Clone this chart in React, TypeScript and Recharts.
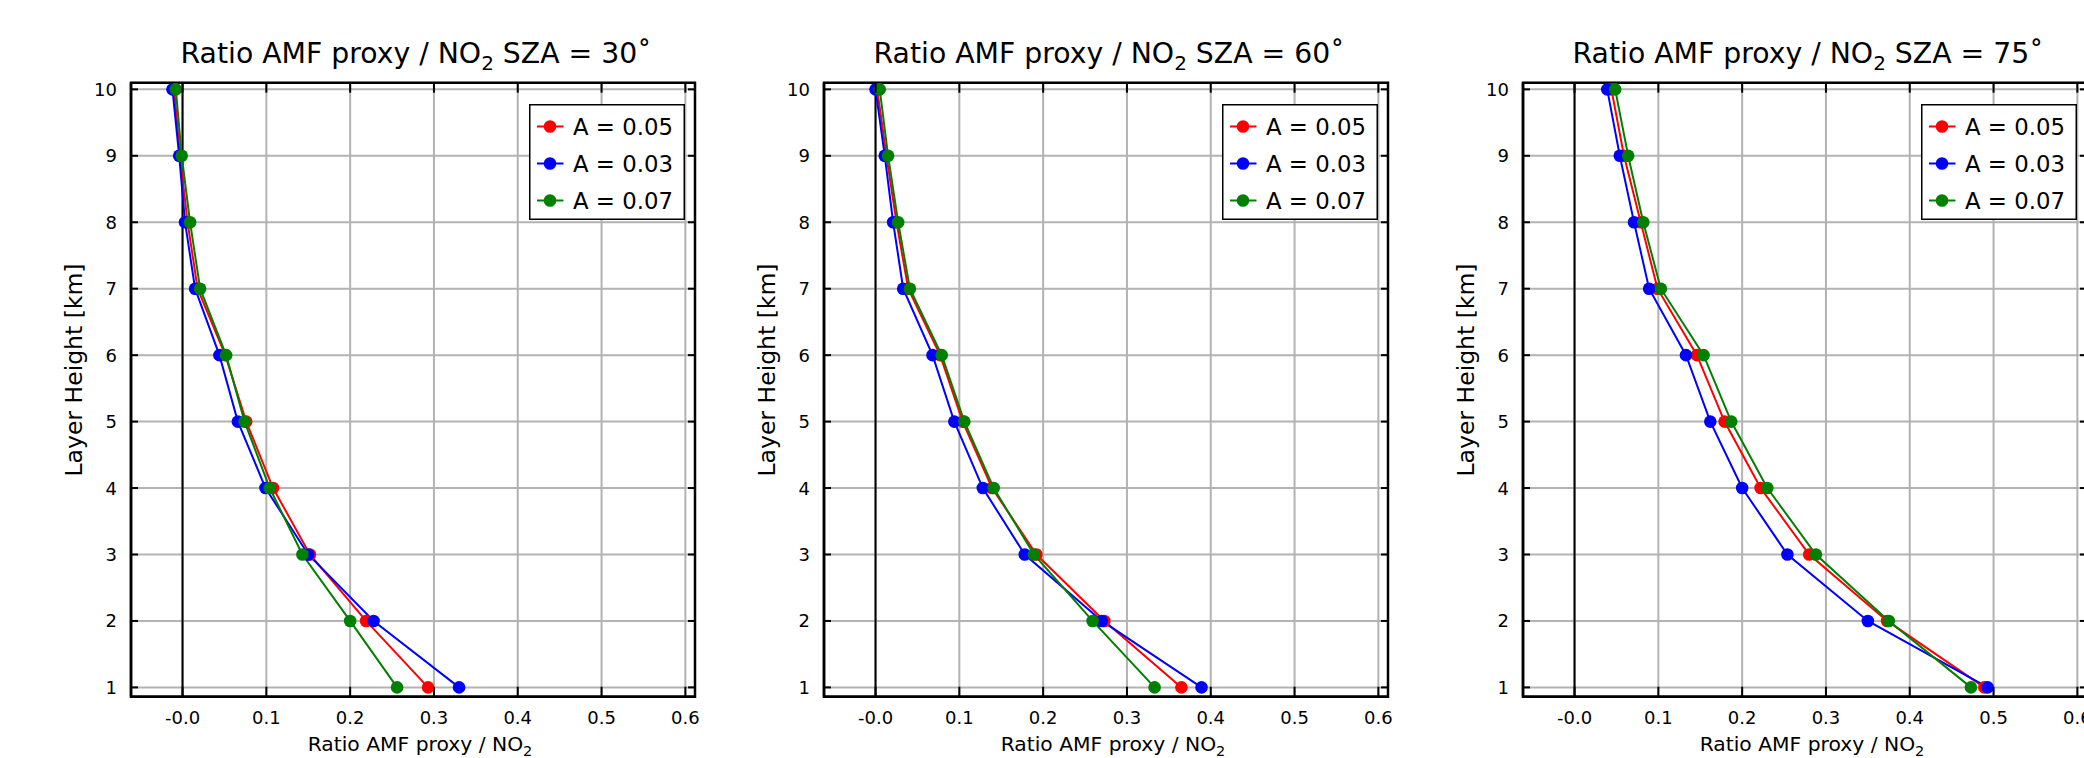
import React from 'react';
import { LineChart, Line, XAxis, YAxis, CartesianGrid, ReferenceLine, ReferenceArea, Legend } from 'recharts';

// ---------- data ----------
const heights = [1, 2, 3, 4, 5, 6, 7, 8, 9, 10];
const szaValues = ['30', '60', '75'];
const seriesLabels = ['A = 0.05', 'A = 0.03', 'A = 0.07'];
const seriesKeys = ['a05', 'a03', 'a07'];
const seriesColors = ['#ff0000', '#0000ff', '#008000'];
const xTicks = [0, 0.1, 0.2, 0.3, 0.4, 0.5, 0.6];
const yTicks = [1, 2, 3, 4, 5, 6, 7, 8, 9, 10];

// values for layer heights 1..10 km
const sza30A05 = [0.293, 0.219, 0.152, 0.108, 0.076, 0.051, 0.018, 0.006, -0.003, -0.010];
const sza30A03 = [0.330, 0.228, 0.150, 0.099, 0.066, 0.044, 0.015, 0.003, -0.004, -0.012];
const sza30A07 = [0.256, 0.200, 0.143, 0.104, 0.074, 0.052, 0.021, 0.009, -0.001, -0.008];

const sza60A05 = [0.365, 0.273, 0.192, 0.139, 0.104, 0.077, 0.039, 0.025, 0.013, 0.002];
const sza60A03 = [0.389, 0.270, 0.178, 0.128, 0.094, 0.068, 0.033, 0.021, 0.011, 0.000];
const sza60A07 = [0.333, 0.259, 0.189, 0.141, 0.106, 0.079, 0.041, 0.027, 0.015, 0.005];

const sza75A05 = [0.489, 0.373, 0.280, 0.222, 0.179, 0.146, 0.099, 0.079, 0.059, 0.044];
const sza75A03 = [0.493, 0.350, 0.254, 0.200, 0.162, 0.133, 0.089, 0.071, 0.054, 0.039];
const sza75A07 = [0.473, 0.375, 0.288, 0.230, 0.187, 0.154, 0.103, 0.082, 0.064, 0.0485];

const panelSeries = [
  [sza30A05, sza30A03, sza30A07],
  [sza60A05, sza60A03, sza60A07],
  [sza75A05, sza75A03, sza75A07],
];

// ---------- layout ----------
const FONT = "'DejaVu Sans', sans-serif";
const CHART_W = 720;
const CHART_H = 758;
const PLOT_LEFT = 131;
const PLOT_TOP = 82.7;
const PLOT_W = 564;
const PLOT_H = 614;
const X_AXIS_H = CHART_H - PLOT_TOP - PLOT_H;
const X_DOMAIN: [number, number] = [-0.0615, 0.6115];
const Y_DOMAIN: [number, number] = [0.86, 10.1];
const PANEL_OFFSETS = [0, 693, 1392.3];

const XTick = (props: any) => {
  const { x, y, payload } = props;
  const v = payload.value as number;
  const label = v === 0 ? '-0.0' : v.toFixed(1);
  return (
    <g>
      <line x1={x} x2={x} y1={y} y2={y - 10} stroke="#000" strokeWidth={2} />
      <line x1={x} x2={x} y1={y - PLOT_H} y2={y - PLOT_H + 10} stroke="#000" strokeWidth={2} />
      <text x={x} y={y + 27} textAnchor="middle" fontSize={18} fontFamily={FONT} fill="#000">
        {label}
      </text>
    </g>
  );
};

const YTick = (props: any) => {
  const { x, y, payload } = props;
  return (
    <g>
      <line x1={x} x2={x + 7} y1={y} y2={y} stroke="#000" strokeWidth={2} />
      <line x1={x + PLOT_W} x2={x + PLOT_W - 7} y1={y} y2={y} stroke="#000" strokeWidth={2} />
      <text x={x - 14} y={y + 6.5} textAnchor="end" fontSize={18} fontFamily={FONT} fill="#000">
        {payload.value}
      </text>
    </g>
  );
};

const LegendBox = () => {
  return (
    <svg width={156} height={116} style={{ display: 'block', overflow: 'visible' }}>
      <rect x={0.75} y={0.75} width={154.5} height={114.5} fill="#fff" stroke="#000" strokeWidth={1.5} />
      {seriesLabels.map((lab, i) => {
        const cy = 22.5 + 37 * i;
        return (
          <g key={i}>
            <line x1={8} x2={34.5} y1={cy} y2={cy} stroke={seriesColors[i]} strokeWidth={2} />
            <circle cx={21} cy={cy} r={6.3} fill={seriesColors[i]} />
            <text x={44} y={cy + 8.3} fontSize={22.8} fontFamily={FONT} fill="#000">
              {lab}
            </text>
          </g>
        );
      })}
    </svg>
  );
};

const Panel = ({ index }: { index: number }) => {
  const series = panelSeries[index];
  const rows = heights.map((h, i) => ({
    h,
    a05: series[0][i],
    a03: series[1][i],
    a07: series[2][i],
  }));
  const plotCx = PLOT_LEFT + PLOT_W / 2;
  return (
    <div style={{ position: 'absolute', left: PANEL_OFFSETS[index], top: 0, width: CHART_W, height: CHART_H }}>
      <LineChart
        width={CHART_W}
        height={CHART_H}
        data={rows}
        layout="vertical"
        margin={{ top: PLOT_TOP, right: CHART_W - PLOT_LEFT - PLOT_W, bottom: 0, left: 0 }}
      >
        <CartesianGrid stroke="#b3b3b3" strokeWidth={2} />
        <XAxis
          type="number"
          domain={X_DOMAIN}
          ticks={xTicks}
          allowDataOverflow
          height={X_AXIS_H}
          tickSize={0}
          tickMargin={0}
          tickLine={false}
          axisLine={{ stroke: '#000', strokeWidth: 2.5 }}
          tick={<XTick />}
          interval={0}
        />
        <YAxis
          type="number"
          dataKey="h"
          domain={Y_DOMAIN}
          ticks={yTicks}
          allowDataOverflow
          reversed
          width={PLOT_LEFT}
          tickSize={0}
          tickMargin={0}
          tickLine={false}
          axisLine={{ stroke: '#000', strokeWidth: 2.5 }}
          tick={<YTick />}
          interval={0}
        />
        <ReferenceLine x={0} stroke="#000" strokeWidth={2} />
        {seriesKeys.map((k, i) => (
          <Line
            key={k}
            type="linear"
            dataKey={k}
            name={seriesLabels[i]}
            stroke={seriesColors[i]}
            strokeWidth={2}
            dot={{ r: 6.3, fill: seriesColors[i], stroke: 'none', strokeWidth: 0 }}
            activeDot={false}
            isAnimationActive={false}
          />
        ))}
        <ReferenceArea
          x1={X_DOMAIN[0]}
          x2={X_DOMAIN[1]}
          y1={Y_DOMAIN[0]}
          y2={Y_DOMAIN[1]}
          fill="none"
          fillOpacity={0}
          stroke="#000"
          strokeWidth={2.5}
          ifOverflow="visible"
        />
        <Legend
          layout="vertical"
          align="center"
          verticalAlign="middle"
          wrapperStyle={{ left: 529, top: 103.5, width: 156, height: 116 }}
          content={<LegendBox />}
        />
      </LineChart>
      <svg
        width={CHART_W}
        height={CHART_H}
        style={{ position: 'absolute', left: 0, top: 0, pointerEvents: 'none' }}
      >
        <text x={plotCx + 3} y={63.3} textAnchor="middle" fontSize={28.3} fontFamily={FONT} fill="#000">
          Ratio AMF proxy / NO
          <tspan fontSize={20} dy={7}>2</tspan>
          <tspan dy={-7}> SZA = {szaValues[index]}˚</tspan>
        </text>
        <text x={plotCx + 7} y={750.7} textAnchor="middle" fontSize={20.3} fontFamily={FONT} fill="#000">
          Ratio AMF proxy / NO
          <tspan fontSize={14.5} dy={5}>2</tspan>
        </text>
        <text
          transform={`translate(82, 370) rotate(-90)`}
          textAnchor="middle"
          fontSize={23.5}
          fontFamily={FONT}
          fill="#000"
        >
          Layer Height [km]
        </text>
      </svg>
    </div>
  );
}

export default function App() {
  return (
    <div
      style={{
        position: 'absolute',
        left: 0,
        top: 0,
        width: 2084,
        height: 758,
        overflow: 'hidden',
        background: '#fff',
      }}
    >
      {[0, 1, 2].map((i) => (
        <Panel key={i} index={i} />
      ))}
    </div>
  );
}
